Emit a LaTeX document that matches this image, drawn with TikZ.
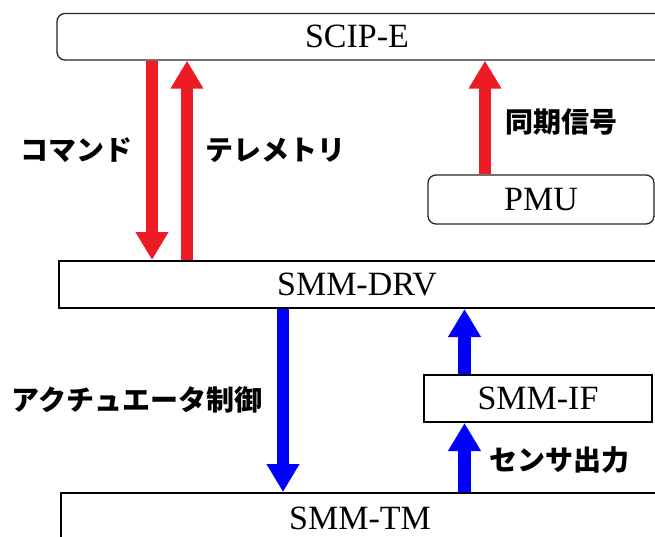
\documentclass[tikz,border=0pt]{standalone}
\usepackage{fontspec}
\setmainfont{Liberation Serif}
\newfontfamily\jp{Noto Sans CJK JP}
\usetikzlibrary{arrows.meta}
\definecolor{arred}{HTML}{ED1C24}
\definecolor{arblue}{HTML}{0000FF}
\tikzset{
  rbox/.style={draw=black!85, line width=1.3pt, rounded corners=8pt, fill=white, inner sep=0pt, font=\fontsize{34}{34}\selectfont},
  sbox/.style={draw=black, line width=2pt, fill=white, inner sep=0pt, font=\fontsize{34}{34}\selectfont},
  fatarrow/.style={line width=12.5pt, -{Triangle[width=31pt,length=28pt]}},
  redarrow/.style={fatarrow, draw=arred},
  bluearrow/.style={fatarrow, draw=arblue},
  jlabel/.style={font=\jp\bfseries\fontsize{28}{28}\selectfont, inner sep=0pt}
}
\begin{document}
\begin{tikzpicture}[x=1pt,y=-1pt]
\useasboundingbox (0,0) rectangle (655,536);
\clip (0,0) rectangle (655,536);
% boxes
\node[rbox, minimum width=609pt, minimum height=46.5pt] (scip) at (361.5,36.75) {SCIP-E\hspace*{9pt}};
\node[rbox, minimum width=226pt, minimum height=49pt] (pmu) at (541,199.5) {PMU};
\node[sbox, minimum width=611pt, minimum height=47pt] (drv) at (364.5,284.5) {SMM-DRV\hspace*{15pt}};
\node[sbox, minimum width=228pt, minimum height=47pt] (smif) at (538,398.5) {SMM-IF};
\node[sbox, minimum width=609pt, minimum height=51pt] (tm) at (365.5,518.5) {SMM-TM\hspace*{11pt}};
% arrow columns
\coordinate (c1) at (152,0);
\coordinate (c2) at (187,0);
\coordinate (c3) at (485,0);
\coordinate (c4) at (283,0);
\coordinate (c5) at (464.5,0);
% arrows
\draw[redarrow] (scip.south -| c1) -- (drv.north -| c1);
\draw[redarrow] (drv.north -| c2) -- (scip.south -| c2);
\draw[redarrow] (pmu.north -| c3) -- (scip.south -| c3);
\draw[bluearrow] (drv.south -| c4) -- (tm.north -| c4);
\draw[bluearrow] (smif.north -| c5) -- (drv.south -| c5);
\draw[bluearrow] (tm.north -| c5) -- (smif.south -| c5);
% labels
\node[jlabel] (lcmd) at (76.5,150) {コマンド};
\node[jlabel] (ltlm) at (275,150) {テレメトリ};
\node[jlabel] (lsync) at (561,122) {同期信号};
\node[jlabel] (lact) at (137,400) {アクチュエータ制御};
\node[jlabel] (lsens) at (559,460) {センサ出力};
\end{tikzpicture}
\end{document}
